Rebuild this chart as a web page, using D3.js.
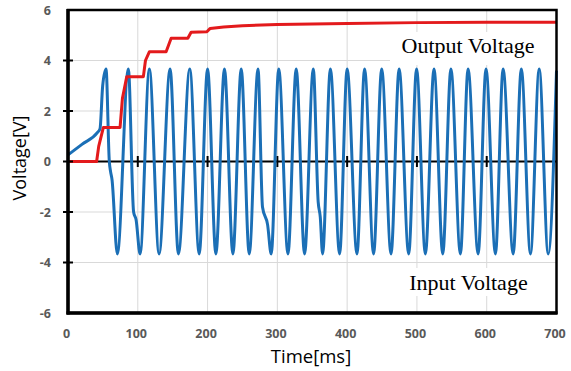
<!DOCTYPE html>
<html>
<head>
<meta charset="utf-8">
<script src="https://cdn.jsdelivr.net/npm/d3@7"></script>
<style>
html,body{margin:0;padding:0;background:#fff;}
svg{display:block;}
</style>
</head>
<body>
<svg id="chart" width="571" height="371"></svg>
<script>
// ---- data ----
const xTicks = [0, 100, 200, 300, 400, 500, 600, 700];
const yTicks = [-6, -4, -2, 0, 2, 4, 6];
const xLabel = "Time[ms]";
const yLabel = "Voltage[V]";

// Input voltage (blue): time [ms] and voltage [V] of extrema / shape points
const inputTime = [0, 20, 42, 45.9, 49.7, 54.5, 59.2, 61, 63, 70.7, 86.5, 94, 97.5, 103.3,
  116.6, 130.5, 146.3, 158.2, 174.5, 188, 200, 211.9, 224.2, 236.3, 248.2, 259.7,
  272.3, 278.7, 286, 291.2, 302, 315.2, 327, 339, 351.5, 358.5, 361.5, 364.8,
  376, 389.2, 400, 414.1, 425, 437.9, 449.5, 462.9, 474.5, 488.2, 499.5, 512.1,
  524.5, 537, 548.7, 562.3, 573.3, 587.7, 599, 612.5, 623.5, 637.9, 649.6, 662.7,
  675.2, 688.1, 700];
const inputVolt = [0.26, 0.68, 1.14, 1.3, 3.0, 3.66, 0, -0.4, -0.7, -3.66, 3.66, -2.0, -2.3, -3.66,
  3.66, -3.66, 3.66, -3.66, 3.66, -3.66, 3.66, -3.66, 3.66, -3.66, 3.66, -3.66,
  3.66, -1.8, -2.5, -3.66, 3.66, -3.66, 3.66, -3.66, 3.66, -1.6, -2.2, -3.66,
  3.66, -3.66, 3.66, -3.66, 3.66, -3.66, 3.66, -3.66, 3.66, -3.66, 3.66, -3.66,
  3.66, -3.66, 3.66, -3.66, 3.66, -3.66, 3.66, -3.66, 3.66, -3.66, 3.66, -3.66,
  3.66, -3.66, 3.6];

// Output voltage (red)
const outputTime = [0, 41, 44, 50.7, 74.6, 78, 84.2, 108, 111, 116.7, 140.6, 147.8,
  171.7, 176.4, 199, 203.7, 223, 250, 300, 400, 500, 600, 700];
const outputVolt = [0, 0, 0.6, 1.35, 1.35, 2.5, 3.36, 3.36, 4.0, 4.35, 4.35, 4.88,
  4.88, 5.12, 5.14, 5.27, 5.33, 5.38, 5.43, 5.47, 5.5, 5.51, 5.51];

const labelOutput = "Output Voltage";
const labelInput = "Input Voltage";

// ---- chart ----
const svg = d3.select("#chart");
const x = d3.scaleLinear().domain([0, 700]).range([68, 556.5]);
const y = d3.scaleLinear().domain([-6, 6]).range([313, 10]);
const [x0, x1] = x.range();
const [yb, yt] = y.range();

// gridlines
const grid = svg.append("g").attr("stroke", "#d9d9d9").attr("stroke-width", 1);
grid.selectAll("line.v").data(xTicks.slice(1, -1)).join("line")
  .attr("x1", d => x(d)).attr("x2", d => x(d)).attr("y1", yt).attr("y2", yb);
grid.selectAll("line.h").data(yTicks.slice(1, -1)).join("line")
  .attr("x1", x0).attr("x2", x1).attr("y1", d => y(d)).attr("y2", d => y(d));

// white boxes behind annotations
svg.append("rect").attr("x", 390).attr("y", 32).attr("width", x1 - 390).attr("height", 33).attr("fill", "#fff");
svg.append("rect").attr("x", 398).attr("y", 268).attr("width", 142).attr("height", 28).attr("fill", "#fff");

// zero line with ticks
svg.append("line").attr("x1", x0).attr("x2", x1).attr("y1", y(0)).attr("y2", y(0))
  .attr("stroke", "#000").attr("stroke-width", 2);
svg.append("g").selectAll("line").data(xTicks.slice(1, -1)).join("line")
  .attr("x1", d => x(d)).attr("x2", d => x(d)).attr("y1", y(0) - 5.5).attr("y2", y(0) + 5.5)
  .attr("stroke", "#000").attr("stroke-width", 2);

// lines
const inputData = inputTime.map((t, i) => [t, inputVolt[i]]);
const outputData = outputTime.map((t, i) => [t, outputVolt[i]]);

svg.append("path").datum(inputData)
  .attr("fill", "none").attr("stroke", "#1b6fb6").attr("stroke-width", 3)
  .attr("stroke-linejoin", "round")
  .attr("d", d3.line().x(d => x(d[0])).y(d => y(d[1])).curve(d3.curveMonotoneX));

svg.append("path").datum(outputData)
  .attr("fill", "none").attr("stroke", "#e31a1c").attr("stroke-width", 3)
  .attr("stroke-linejoin", "round")
  .attr("d", d3.line().x(d => x(d[0])).y(d => y(d[1])));

// frame
svg.append("rect").attr("x", x0).attr("y", yt).attr("width", x1 - x0).attr("height", yb - yt)
  .attr("fill", "none").attr("stroke", "#000").attr("stroke-width", 2.5);
svg.append("line").attr("x1", x0).attr("x2", x0).attr("y1", yt - 1).attr("y2", yb + 1.5)
  .attr("stroke", "#000").attr("stroke-width", 3.5);
svg.append("line").attr("x1", x0 - 1.5).attr("x2", x1 + 1).attr("y1", yb).attr("y2", yb)
  .attr("stroke", "#000").attr("stroke-width", 3.5);

// y ticks (crossing)
svg.append("g").selectAll("line").data(yTicks.slice(1, -1)).join("line")
  .attr("x1", x0 - 5).attr("x2", x0 + 5).attr("y1", d => y(d)).attr("y2", d => y(d))
  .attr("stroke", "#000").attr("stroke-width", 2);

// tick labels
const tickFont = "'Open Sans', 'Noto Sans', sans-serif";
svg.append("g").selectAll("text").data(yTicks).join("text")
  .attr("x", 51).attr("y", d => y(d)).attr("dy", "0.36em")
  .attr("text-anchor", "end").attr("font-family", tickFont).attr("font-weight", "bold")
  .attr("font-size", 12.5).attr("fill", "#595959").text(d => d);
svg.append("g").selectAll("text").data(xTicks).join("text")
  .attr("x", d => x(d) - 1.5).attr("y", 338)
  .attr("text-anchor", "middle").attr("font-family", tickFont).attr("font-weight", "bold")
  .attr("font-size", 12.5).attr("fill", "#595959").text(d => d);

// axis titles
svg.append("text").attr("x", 311).attr("y", 363).attr("text-anchor", "middle")
  .attr("font-family", tickFont).attr("font-size", 18.5).attr("fill", "#000").text(xLabel);
svg.append("text").attr("transform", "translate(26,158) rotate(-90)").attr("text-anchor", "middle")
  .attr("font-family", tickFont).attr("font-size", 18).attr("fill", "#000").text(yLabel);

// annotations
const serif = "'Liberation Serif', 'Times New Roman', serif";
svg.append("text").attr("x", 401.5).attr("y", 52.7).attr("font-family", serif)
  .attr("font-size", 22).attr("fill", "#000").text(labelOutput);
svg.append("text").attr("x", 409.3).attr("y", 290).attr("font-family", serif)
  .attr("font-size", 22).attr("fill", "#000").text(labelInput);
</script>
</body>
</html>
